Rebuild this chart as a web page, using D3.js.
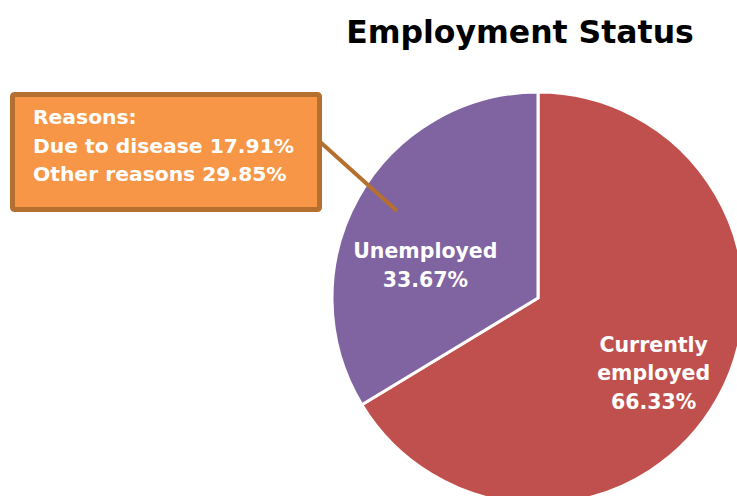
<!DOCTYPE html>
<html>
<head>
<meta charset="utf-8">
<script src="https://cdn.jsdelivr.net/npm/d3@7"></script>
<style>
  html, body { margin: 0; padding: 0; background: #fff; }
  svg { display: block; }
  text { font-family: "DejaVu Sans", sans-serif; font-weight: bold; }
</style>
</head>
<body>
<svg id="chart" width="737" height="496"></svg>
<script>
// Employment status shares (percent)
const categories = ["Currently employed", "Unemployed"];
const values = [66.33, 33.67];
const colors = ["#C0504D", "#8064A2"];
const labelLines = [["Currently", "employed", "66.33%"], ["Unemployed", "33.67%"]];

// Breakdown of unemployment reasons
const reasonNames = ["Due to disease", "Other reasons"];
const reasonValues = [17.91, 29.85];

const title = "Employment Status";

const svg = d3.select("#chart");
const cx = 538, cy = 298, radius = 206;

svg.append("text")
  .attr("x", 520).attr("y", 43)
  .attr("text-anchor", "middle")
  .attr("font-size", 31.5)
  .attr("fill", "#000")
  .text(title);

const pie = d3.pie().sort(null).value(d => d)
  .startAngle(0).endAngle(2 * Math.PI);
const arcs = pie(values);
const arc = d3.arc().innerRadius(0).outerRadius(radius);

const g = svg.append("g").attr("transform", `translate(${cx},${cy})`);
g.selectAll("path.slice")
  .data(arcs)
  .join("path")
  .attr("class", "slice")
  .attr("d", arc)
  .attr("fill", (d, i) => colors[i])
  .attr("stroke", "#fff")
  .attr("stroke-width", 3)
  .attr("stroke-linejoin", "round");

// Slice labels, placed along each slice's mid-angle
const labelRadius = 0.6;
const labelShift = [[8, 14], [-5, 28]];
arcs.forEach((d, i) => {
  const a = (d.startAngle + d.endAngle) / 2;
  const r = radius * labelRadius;
  const lx = Math.sin(a) * r + labelShift[i][0];
  const ly = -Math.cos(a) * r + labelShift[i][1];
  const lines = labelLines[i];
  const t = g.append("text")
    .attr("text-anchor", "middle")
    .attr("font-size", 20.5)
    .attr("fill", "#fff");
  const y0 = ly - (lines.length - 1) * 14 + 7;
  lines.forEach((s, k) => {
    t.append("tspan").attr("x", lx).attr("y", y0 + k * 28.5).text(s);
  });
});

// Callout leader line
const leaderColor = "#B5702F";
svg.append("line")
  .attr("x1", 318).attr("y1", 140)
  .attr("x2", 397).attr("y2", 211)
  .attr("stroke", leaderColor)
  .attr("stroke-width", 4);

// Callout box
svg.append("rect")
  .attr("x", 12.5).attr("y", 94.5)
  .attr("width", 307).attr("height", 115)
  .attr("fill", "#F79646")
  .attr("stroke", leaderColor)
  .attr("stroke-width", 5)
  .attr("rx", 2);

const calloutLines = ["Reasons:"].concat(
  reasonNames.map((n, i) => `${n} ${reasonValues[i].toFixed(2)}%`)
);
const ct = svg.append("text")
  .attr("font-size", 20.3)
  .attr("fill", "#fff");
calloutLines.forEach((s, k) => {
  ct.append("tspan").attr("x", 33).attr("y", 124 + k * 28.5).text(s);
});
</script>
</body>
</html>
